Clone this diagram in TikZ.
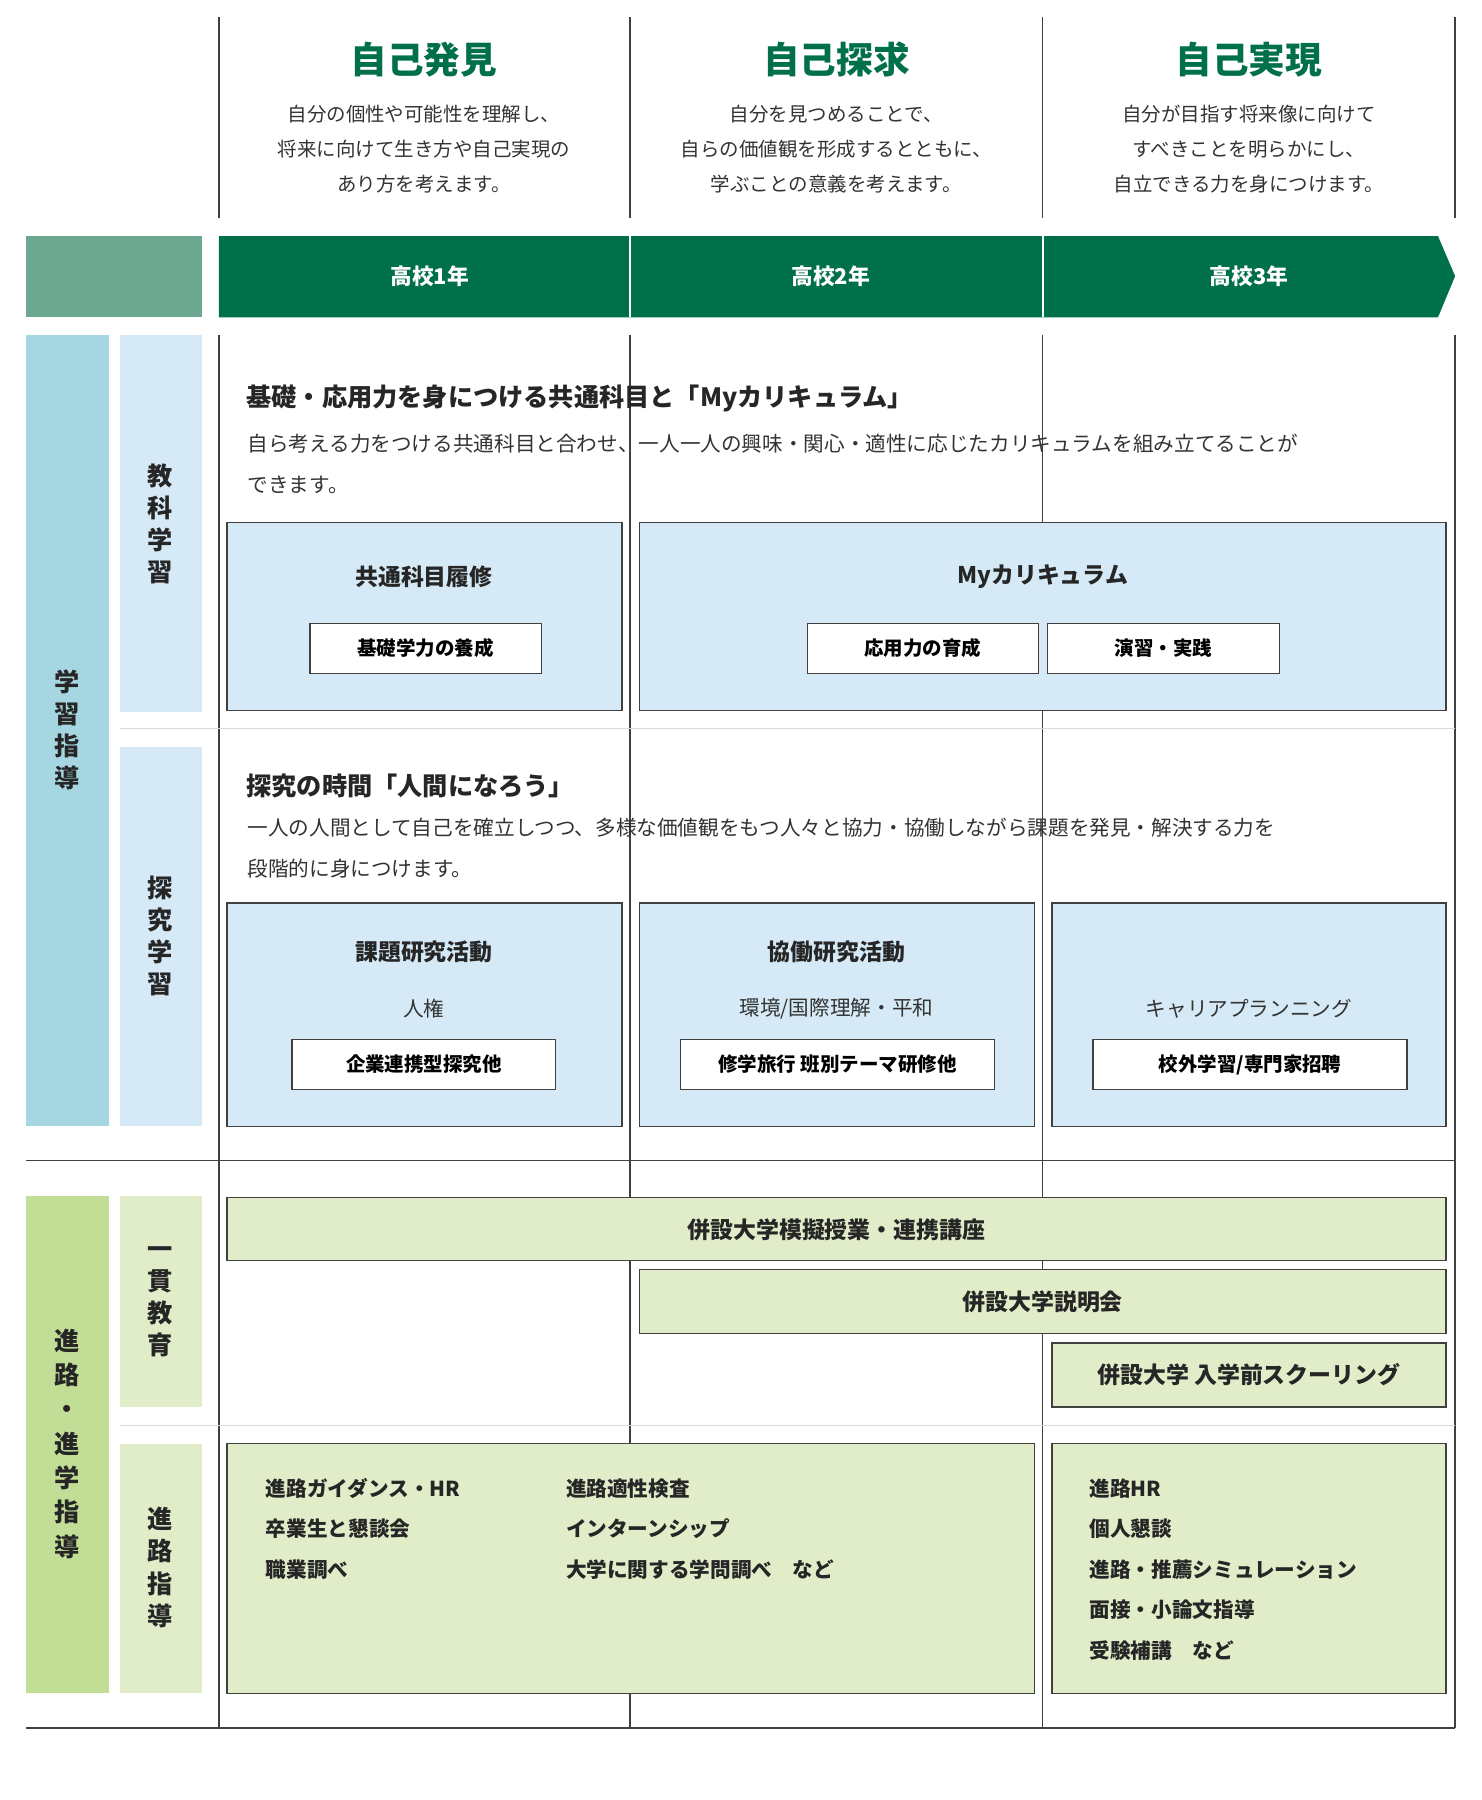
\documentclass[tikz,border=0pt]{standalone}
\usepackage{fontspec}
\setmainfont{Noto Sans CJK JP}
\begin{document}
\begin{tikzpicture}[x=0.5pt,y=-0.5pt,
  line/.style={draw=black!75,line width=0.6pt},
  gline/.style={draw=black!15,line width=0.6pt},
  bbox/.style={draw=black!75,line width=0.6pt,fill=blue1},
  gbox/.style={draw=black!75,line width=0.6pt,fill=green1},
  wbox/.style={draw=black!75,line width=0.6pt,fill=white,font=\fontsize{8.5}{10}\bfseries\selectfont},
  htitle/.style={text=dgreen,font=\fontsize{16}{18}\bfseries\selectfont},
  hdesc/.style={align=center,font=\fontsize{8.5}{15.2}\selectfont,text=black!80},
  vlab/.style={align=center,font=\fontsize{11}{14}\bfseries\selectfont,text=black!85},
  btitle/.style={font=\fontsize{10}{12}\bfseries\selectfont,text=black!85},
  txt/.style={font=\fontsize{9}{11}\selectfont,text=black!80},
  btxt/.style={font=\fontsize{9}{11}\bfseries\selectfont,text=black!85,anchor=west},
]
\definecolor{dgreen}{RGB}{0,112,74}
\definecolor{band}{RGB}{107,168,143}
\definecolor{blue0}{RGB}{166,214,226}
\definecolor{blue1}{RGB}{213,234,246}
\definecolor{green0}{RGB}{193,221,150}
\definecolor{green1}{RGB}{225,236,200}
\useasboundingbox (0,0) rectangle (1293,1571);
\fill[white] (0,0) rectangle (1293,1571);
% header lines
\foreach \x in {191,550,910,1270} \draw[line] (\x,15) -- (\x,190);
\foreach \x in {191,550,910,1270} \draw[line] (\x,292) -- (\x,1508);
\draw[line] (23,1013) -- (1270,1013);
\draw[line] (23,1508) -- (1270,1508);
\draw[gline] (105,636) -- (1270,636);
\draw[gline] (105,1244) -- (1270,1244);
% headers
\node[htitle] (h1) at (370,52) {自己発見};
\node[htitle] (h2) at (730,52) {自己探求};
\node[htitle] (h3) at (1090,52) {自己実現};
\node[hdesc] (d1) at (370,130) {自分の個性や可能性を理解し、\\将来に向けて生き方や自己実現の\\あり方を考えます。};
\node[hdesc] (d2) at (730,130) {自分を見つめることで、\\自らの価値観を形成するとともに、\\学ぶことの意義を考えます。};
\node[hdesc] (d3) at (1090,130) {自分が目指す将来像に向けて\\すべきことを明らかにし、\\自立できる力を身につけます。};
% band
\fill[band] (23,206) rectangle (176,277);
\fill[dgreen] (191,206) -- (1255,206) -- (1270,241) -- (1255,277) -- (191,277) -- cycle;
\draw[white,line width=0.8pt] (550,206) -- (550,277) (910,206) -- (910,277);
\node[text=white,font=\fontsize{9.5}{11}\bfseries\selectfont] (y1) at (375,241) {高校1年};
\node[text=white,font=\fontsize{9.5}{11}\bfseries\selectfont] (y2) at (725,241) {高校2年};
\node[text=white,font=\fontsize{9.5}{11}\bfseries\selectfont] (y3) at (1090,241) {高校3年};
% left bars
\fill[blue0] (23,292) rectangle (95,983);
\fill[blue1] (105,292) rectangle (176,621);
\fill[blue1] (105,652) rectangle (176,983);
\fill[green0] (23,1044) rectangle (95,1478);
\fill[green1] (105,1044) rectangle (176,1228);
\fill[green1] (105,1260) rectangle (176,1478);
\node[vlab] (L1) at (59,637) {学\\習\\指\\導};
\node[vlab] (L2) at (140,457) {教\\科\\学\\習};
\node[vlab] (L3) at (140,817) {探\\究\\学\\習};
\node[vlab,font=\fontsize{11}{15}\bfseries\selectfont] (L4) at (59,1260) {進\\路\\・\\進\\学\\指\\導};
\node[vlab] (L5) at (140,1136) {一\\貫\\教\\育};
\node[vlab] (L6) at (140,1368) {進\\路\\指\\導};
% section 1
\node[anchor=west,font=\fontsize{11}{13}\bfseries\selectfont,text=black!85] (s1) at (208,348) {基礎・応用力を身につける共通科目と「Myカリキュラム」};
\node[txt,anchor=west] (s1a) at (209,387) {自ら考える力をつける共通科目と合わせ、一人一人の興味・関心・適性に応じたカリキュラムを組み立てることが};
\node[txt,anchor=west] (s1b) at (209,423) {できます。};
\draw[bbox] (198,456) rectangle (543,620);
\draw[bbox] (558,456) rectangle (1262,620);
\node[btitle] (k1) at (370,503) {共通科目履修};
\node[wbox,minimum width=101pt,minimum height=22pt] (k1b) at (371.5,566) {基礎学力の養成};
\node[btitle] (k2) at (910,503) {Myカリキュラム};
\node[wbox,minimum width=101pt,minimum height=22pt] (k2a) at (805.5,566) {応用力の育成};
\node[wbox,minimum width=101pt,minimum height=22pt] (k2b) at (1015.5,566) {演習・実践};
% section 2
\node[anchor=west,font=\fontsize{11}{13}\bfseries\selectfont,text=black!85] (s2) at (208,686) {探究の時間「人間になろう」};
\node[txt,anchor=west] (s2a) at (209,722) {一人の人間として自己を確立しつつ、多様な価値観をもつ人々と協力・協働しながら課題を発見・解決する力を};
\node[txt,anchor=west] (s2b) at (209,758) {段階的に身につけます。};
\draw[bbox] (198,788) rectangle (543,983);
\draw[bbox] (558,788) rectangle (903,983);
\draw[bbox] (918,788) rectangle (1262,983);
\node[btitle] (t1) at (370,831) {課題研究活動};
\node[txt] (t1s) at (370,880) {人権};
\node[wbox,minimum width=115pt,minimum height=22pt] (t1b) at (370,929) {企業連携型探究他};
\node[btitle] (t2) at (730,831) {協働研究活動};
\node[txt] (t2s) at (730,880) {環境/国際理解・平和};
\node[wbox,minimum width=137pt,minimum height=22pt] (t2b) at (731,929) {修学旅行 班別テーマ研修他};
\node[txt] (t3s) at (1090,880) {キャリアプランニング};
\node[wbox,minimum width=137pt,minimum height=22pt] (t3b) at (1091,929) {校外学習/専門家招聘};
% section 3
\draw[gbox] (198,1045) rectangle (1262,1100);
\node[btitle] (g1) at (730,1073) {併設大学模擬授業・連携講座};
\draw[gbox] (558,1108) rectangle (1262,1164);
\node[btitle] (g2) at (910,1136) {併設大学説明会};
\draw[gbox] (918,1172) rectangle (1262,1228);
\node[btitle] (g3) at (1090,1200) {併設大学 入学前スクーリング};
\draw[gbox] (198,1260) rectangle (903,1478);
\draw[gbox] (918,1260) rectangle (1262,1478);
\node[btxt] (a1) at (225,1299) {進路ガイダンス・HR};
\node[btxt] (a2) at (225,1334) {卒業生と懇談会};
\node[btxt] (a3) at (225,1370) {職業調べ};
\node[btxt] (b1) at (487,1299) {進路適性検査};
\node[btxt] (b2) at (487,1334) {インターンシップ};
\node[btxt] (b3) at (487,1370) {大学に関する学問調べ\quad など};
\node[btxt] (c1) at (944,1299) {進路HR};
\node[btxt] (c2) at (944,1334) {個人懇談};
\node[btxt] (c3) at (944,1370) {進路・推薦シミュレーション};
\node[btxt] (c4) at (944,1405) {面接・小論文指導};
\node[btxt] (c5) at (944,1441) {受験補講\quad など};
\end{tikzpicture}
\end{document}
